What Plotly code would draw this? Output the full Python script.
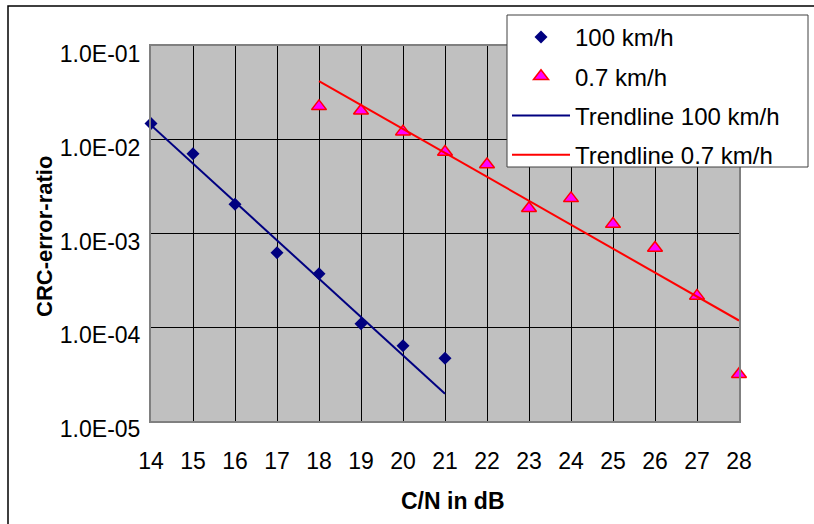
import plotly.graph_objects as go

# Data
cn_100 = [14, 15, 16, 17, 18, 19, 20, 21]
crc_100 = [1.49e-2, 7.1e-3, 2.05e-3, 6.25e-4, 3.73e-4, 1.09e-4, 6.34e-5, 4.68e-5]

cn_07 = [18, 19, 20, 21, 22, 23, 24, 25, 26, 27, 28]
crc_07 = [2.27e-2, 2.04e-2, 1.22e-2, 7.4e-3, 5.45e-3, 1.86e-3, 2.37e-3, 1.26e-3, 7.0e-4, 2.16e-4, 3.15e-5]

trend_100_x = [14, 21]
trend_100_y = [1.43e-2, 1.95e-5]
trend_07_x = [18, 28]
trend_07_y = [4.23e-2, 1.18e-4]

x_ticks = list(range(14, 29))
y_ticks = [1e-5, 1e-4, 1e-3, 1e-2, 1e-1]
y_tick_labels = ["1.0E-05", "1.0E-04", "1.0E-03", "1.0E-02", "1.0E-01"]

FONT = "Arial, Liberation Sans, sans-serif"
W, H = 814, 524
L, R, T, B = 151, 75, 46, 103
pw, ph = W - L - R, H - T - B

def px_x(p):
    return (p - L) / pw

def px_y(p):
    return 1 - (p - T) / ph

fig = go.Figure()
fig.add_trace(go.Scatter(
    x=cn_100, y=crc_100, mode="markers", name="100 km/h", legendgroup="a",
    marker=dict(symbol="diamond", size=10, color="#000080"), cliponaxis=False))
fig.add_trace(go.Scatter(
    x=cn_07, y=crc_07, mode="markers", name="0.7 km/h", legendgroup="b",
    marker=dict(symbol="triangle-up", size=13, color="#FF00FF",
                line=dict(color="#FF0000", width=1.5)), cliponaxis=False))
fig.add_trace(go.Scatter(
    x=trend_100_x, y=trend_100_y, mode="lines", name="Trendline 100 km/h", legendgroup="c",
    line=dict(color="#000080", width=2)))
fig.add_trace(go.Scatter(
    x=trend_07_x, y=trend_07_y, mode="lines", name="Trendline 0.7 km/h", legendgroup="d",
    line=dict(color="#FF0000", width=2)))

fig.update_layout(
    width=W, height=H,
    margin=dict(l=L, r=R, t=T, b=B),
    paper_bgcolor="white",
    plot_bgcolor="#C0C0C0",
    font=dict(family=FONT, size=23, color="black"),
    showlegend=True,
    legend=dict(
        x=px_x(507), y=px_y(15), xanchor="left", yanchor="top",
        bgcolor="rgba(0,0,0,0)", borderwidth=0,
        font=dict(family=FONT, size=24, color="black"),
        traceorder="grouped", tracegroupgap=5, itemwidth=58,
    ),
    xaxis=dict(
        range=[14, 28], tickmode="array", tickvals=x_ticks,
        ticktext=[str(v) for v in x_ticks],
        showgrid=True, gridcolor="black", gridwidth=1,
        showline=True, linecolor="#808080", linewidth=2, mirror=True,
        ticks="", ticklabelstandoff=18, zeroline=False,
        tickfont=dict(family=FONT, size=23),
    ),
    yaxis=dict(
        type="log", range=[-5, -1], tickmode="array", tickvals=y_ticks,
        ticktext=y_tick_labels,
        showgrid=True, gridcolor="black", gridwidth=1,
        showline=True, linecolor="#808080", linewidth=2, mirror=True,
        ticks="", ticklabelstandoff=4, ticklabelshift=8, zeroline=False,
        tickfont=dict(family=FONT, size=23),
    ),
    shapes=[
        dict(type="rect", xref="paper", yref="paper",
             x0=px_x(8), y0=px_y(600), x1=px_x(900), y1=px_y(6),
             line=dict(color="black", width=1.5), fillcolor="rgba(0,0,0,0)", layer="below"),
        dict(type="rect", xref="paper", yref="paper",
             x0=px_x(507), y0=px_y(167), x1=px_x(808), y1=px_y(15),
             line=dict(color="#404040", width=1), fillcolor="white", layer="above"),
    ],
    annotations=[
        dict(text="<b>C/N in dB</b>", xref="paper", yref="paper",
             x=px_x(453), y=px_y(501), showarrow=False,
             font=dict(family=FONT, size=23, color="black"),
             xanchor="center", yanchor="middle"),
        dict(text="<b>CRC-error-ratio</b>", xref="paper", yref="paper",
             x=px_x(44), y=px_y(237), showarrow=False, textangle=-90,
             font=dict(family=FONT, size=22, color="black"),
             xanchor="center", yanchor="middle"),
    ],
)

fig.write_html("out.html")
